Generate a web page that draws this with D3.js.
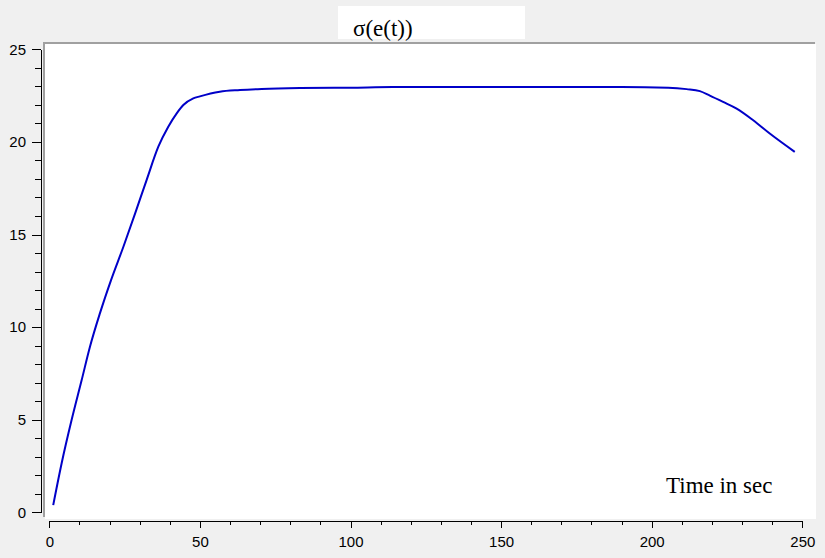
<!DOCTYPE html>
<html>
<head>
<meta charset="utf-8">
<script src="https://cdn.jsdelivr.net/npm/d3@7"></script>
<style>
  html, body { margin: 0; padding: 0; background: #f0f0f0; }
  svg { display: block; }
</style>
</head>
<body>
<div id="chart"></div>
<script>
// ---- data ----
const titleText = "σ(e(t))";
const xLabelText = "Time in sec";
const time = [1.3, 4.1, 7.4, 10.75, 13.5, 16.8, 20.5, 24.6, 28.5, 32.3, 36.2, 39.5, 42.3, 44.5, 47.8, 50, 56.6, 63.3, 70.5, 83.2, 100, 114, 150, 190, 205.5, 211.6, 216, 219.3, 223.7, 228.2, 233.7, 239.2, 247.5];
const sigma = [0.39, 2.65, 4.98, 7.14, 8.94, 10.74, 12.54, 14.34, 16.14, 17.94, 19.74, 20.82, 21.54, 21.99, 22.35, 22.46, 22.71, 22.8, 22.86, 22.91, 22.93, 22.96, 22.97, 22.97, 22.93, 22.85, 22.74, 22.5, 22.16, 21.8, 21.17, 20.45, 19.46];
const xMajorTicks = [0, 50, 100, 150, 200, 250];
const xMinorTicks = d3.range(0, 251, 10);
const yMajorTicks = [0, 5, 10, 15, 20, 25];
const yMinorTicks = d3.range(0, 26, 1);

const W = 825, H = 558;
const svg = d3.select("#chart").append("svg").attr("width", W).attr("height", H);
svg.append("rect").attr("width", W).attr("height", H).attr("fill", "#f0f0f0");

// plot frame
svg.append("rect").attr("x", 45).attr("y", 44).attr("width", 771).attr("height", 475).attr("fill", "#ffffff");
svg.append("line").attr("x1", 43).attr("x2", 815).attr("y1", 43).attr("y2", 43).attr("stroke", "#a0a0a0").attr("stroke-width", 2);
svg.append("line").attr("x1", 44).attr("x2", 44).attr("y1", 42).attr("y2", 517).attr("stroke", "#a0a0a0").attr("stroke-width", 2);

const x = d3.scaleLinear().domain([0, 250]).range([49.3, 802.3]);
const y = d3.scaleLinear().domain([0, 25]).range([512.3, 49.3]);

const font = "'Liberation Sans', Arial, sans-serif";

// y axis
const yMinor = svg.append("g").attr("transform", "translate(41,0)")
  .call(d3.axisLeft(y).tickValues(yMinorTicks).tickSize(6).tickSizeOuter(0).tickFormat(""));
const yMajor = svg.append("g").attr("transform", "translate(41,0)")
  .call(d3.axisLeft(y).tickValues(yMajorTicks).tickSize(9).tickSizeOuter(0).tickPadding(6));
// x axis
const xMinor = svg.append("g").attr("transform", "translate(0,521)")
  .call(d3.axisBottom(x).tickValues(xMinorTicks).tickSize(4).tickSizeOuter(0).tickFormat(""));
const xMajor = svg.append("g").attr("transform", "translate(0,521)")
  .call(d3.axisBottom(x).tickValues(xMajorTicks).tickSize(7).tickSizeOuter(0).tickPadding(8));

[yMinor, yMajor, xMinor, xMajor].forEach(g => {
  g.selectAll("path, line").attr("stroke", "#000").attr("stroke-width", 1).attr("shape-rendering", "crispEdges");
  g.selectAll("text").attr("fill", "#000").style("font-family", font).style("font-size", "15px");
});

// line
const line = d3.line().x((d, i) => x(time[i])).y(d => y(d)).curve(d3.curveMonotoneX);
svg.append("path").datum(sigma).attr("d", line)
  .attr("fill", "none").attr("stroke", "#0000c8").attr("stroke-width", 2);

// title box
svg.append("rect").attr("x", 338).attr("y", 6).attr("width", 187).attr("height", 33).attr("fill", "#ffffff");
svg.append("text").attr("x", 353).attr("y", 36).text(titleText)
  .style("font-family", "'Liberation Serif', 'Times New Roman', serif").style("font-size", "23px")
  .attr("fill", "#000");

// x label
svg.append("text").attr("x", 666).attr("y", 493).text(xLabelText)
  .style("font-family", "'Liberation Serif', 'Times New Roman', serif").style("font-size", "23px")
  .attr("fill", "#000");
</script>
</body>
</html>
